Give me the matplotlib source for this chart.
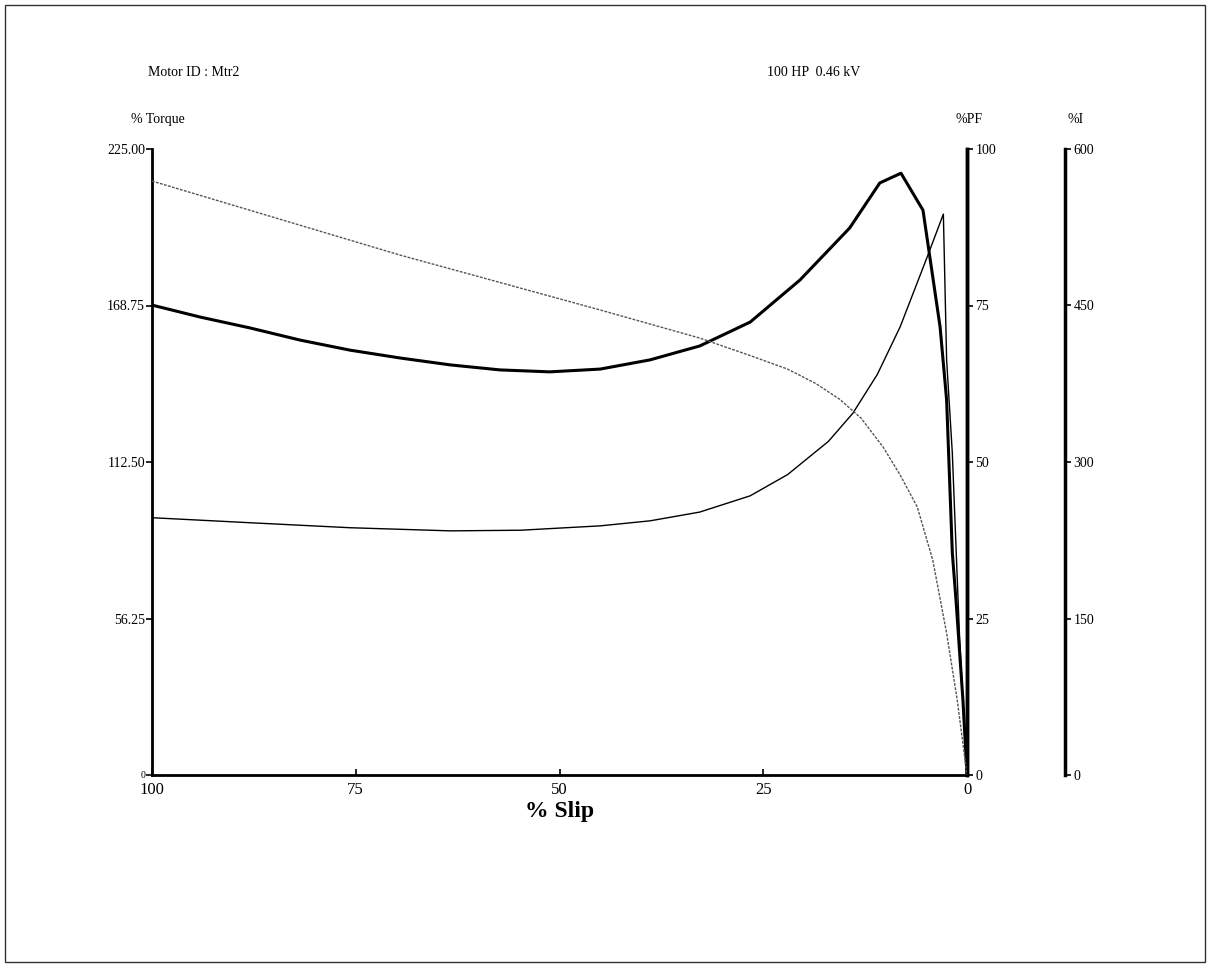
# Motor starting curves (torque, current, power factor vs slip)
import numpy as np
import matplotlib.pyplot as plt
from matplotlib.patches import Rectangle

plt.rcParams['font.family'] = ['Liberation Serif', 'DejaVu Serif']

# Torque curve (% of rated)
torque_slip = [100, 94.1, 88.0, 81.8, 75.7, 69.6, 63.4, 57.3, 51.2, 45.0, 38.9, 32.8, 26.6, 20.5,
               14.4, 10.7, 8.1, 5.4, 3.3, 2.5, 1.8, 1.35, 0.5, 0]
torque_pct = [168.9, 164.6, 160.7, 156.3, 152.7, 149.9, 147.4, 145.6, 144.9, 145.9, 149.2, 154.2, 162.8, 177.9,
              196.6, 212.8, 216.3, 203.0, 161.0, 134.8, 79.8, 62.9, 27.0, 0]

# Current curve (% of FLA)
current_slip = [100, 69.6, 45, 32.8, 26.6, 22.0, 18.5, 15.6, 13.0, 10.3, 8.2, 6.1, 4.2, 2.5, 1.2, 0]
current_pct = [569.3, 498.4, 445.7, 418.8, 402.0, 389.0, 375.0, 360.0, 342.0, 314.4, 287.5, 256.9, 206.0, 136.0, 71.9, 0]

# Power factor curve (%)
pf_slip = [100, 88, 75.7, 63.4, 54.8, 45, 38.9, 32.8, 26.6, 22.0, 17.0, 14.0, 11.0, 8.2, 4.9, 2.9,
           2.5, 1.8, 0.9, 0]
pf_pct = [41.1, 40.3, 39.5, 39.0, 39.1, 39.8, 40.6, 42.0, 44.6, 48.0, 53.3, 57.8, 64.0, 71.6, 82.7, 89.6,
          66.3, 51.4, 21.6, 0]

slip_ticks = [100, 75, 50, 25, 0]
torque_ticks = [0, 56.25, 112.50, 168.75, 225.00]
torque_labels = ['0', '56.25', '112.50', '168.75', '225.00']
pf_ticks = [0, 25, 50, 75, 100]
current_ticks = [0, 150, 300, 450, 600]

fig = plt.figure(figsize=(12.11, 9.68), dpi=100)
W, H = 1211, 968

# outer frame of the scanned page
fig.patches.append(Rectangle((5 / W, 1 - 962 / H), 1200 / W, 957 / H, transform=fig.transFigure,
                             fill=False, edgecolor='#333333', linewidth=1.0))

ax = fig.add_axes([152 / W, 1 - 775 / H, 815 / W, 626 / H])
ax.plot(torque_slip, torque_pct, color='black', linewidth=2.2)
ax.set_xlim(100, 0)
ax.set_ylim(0, 225)
ax.set_xticks(slip_ticks)
ax.set_xticklabels([str(s) for s in slip_ticks], fontsize=12)
ax.set_yticks(torque_ticks)
ax.set_yticklabels(torque_labels, fontsize=10)
ax.get_yticklabels()[0].set_fontsize(7)
ax.tick_params(axis='x', direction='in', length=4, width=1.2, pad=5)
ax.tick_params(axis='y', direction='out', length=4, width=1.2, pad=1)
ax.spines['top'].set_visible(False)
ax.spines['left'].set_linewidth(2)
ax.spines['bottom'].set_linewidth(2)
ax.spines['right'].set_linewidth(2.5)
ax.set_xlabel('% Slip', fontsize=17, fontweight='bold', labelpad=2)

# power factor axis on the right edge of the plot
ax2 = ax.twinx()
ax2.plot(pf_slip, pf_pct, color='black', linewidth=1.0)
ax2.set_ylim(0, 100)
ax2.set_yticks(pf_ticks)
ax2.set_yticklabels([str(t) for t in pf_ticks], fontsize=10)
ax2.tick_params(axis='y', direction='out', length=4, width=1.2, pad=2)
ax2.spines['top'].set_visible(False)
ax2.spines['right'].set_linewidth(2.5)

# current axis, offset further right
ax3 = ax.twinx()
ax3.plot(current_slip, current_pct, color='#555555', linewidth=1.0, linestyle=(0, (2, 1)))
ax3.set_ylim(0, 600)
ax3.set_yticks(current_ticks)
ax3.set_yticklabels([str(t) for t in current_ticks], fontsize=10)
ax3.tick_params(axis='y', direction='out', length=4, width=1.2, pad=2)
ax3.spines['right'].set_position(('axes', 913 / 815))
ax3.spines['right'].set_linewidth(2.5)
ax3.spines['top'].set_visible(False)
ax3.spines['left'].set_visible(False)
ax3.spines['bottom'].set_visible(False)

# header texts
fig.text(148 / W, 1 - 73 / H, 'Motor ID : Mtr2', fontsize=10, va='center', ha='left')
fig.text(767 / W, 1 - 73 / H, '100 HP  0.46 kV', fontsize=10, va='center', ha='left')
fig.text(131 / W, 1 - 119 / H, '% Torque', fontsize=10, va='center', ha='left')
fig.text(955 / W, 1 - 119 / H, '%PF', fontsize=10, va='center', ha='left')
fig.text(1068 / W, 1 - 119 / H, '%I', fontsize=10, va='center', ha='left')

plt.savefig('out.png', dpi=100)
